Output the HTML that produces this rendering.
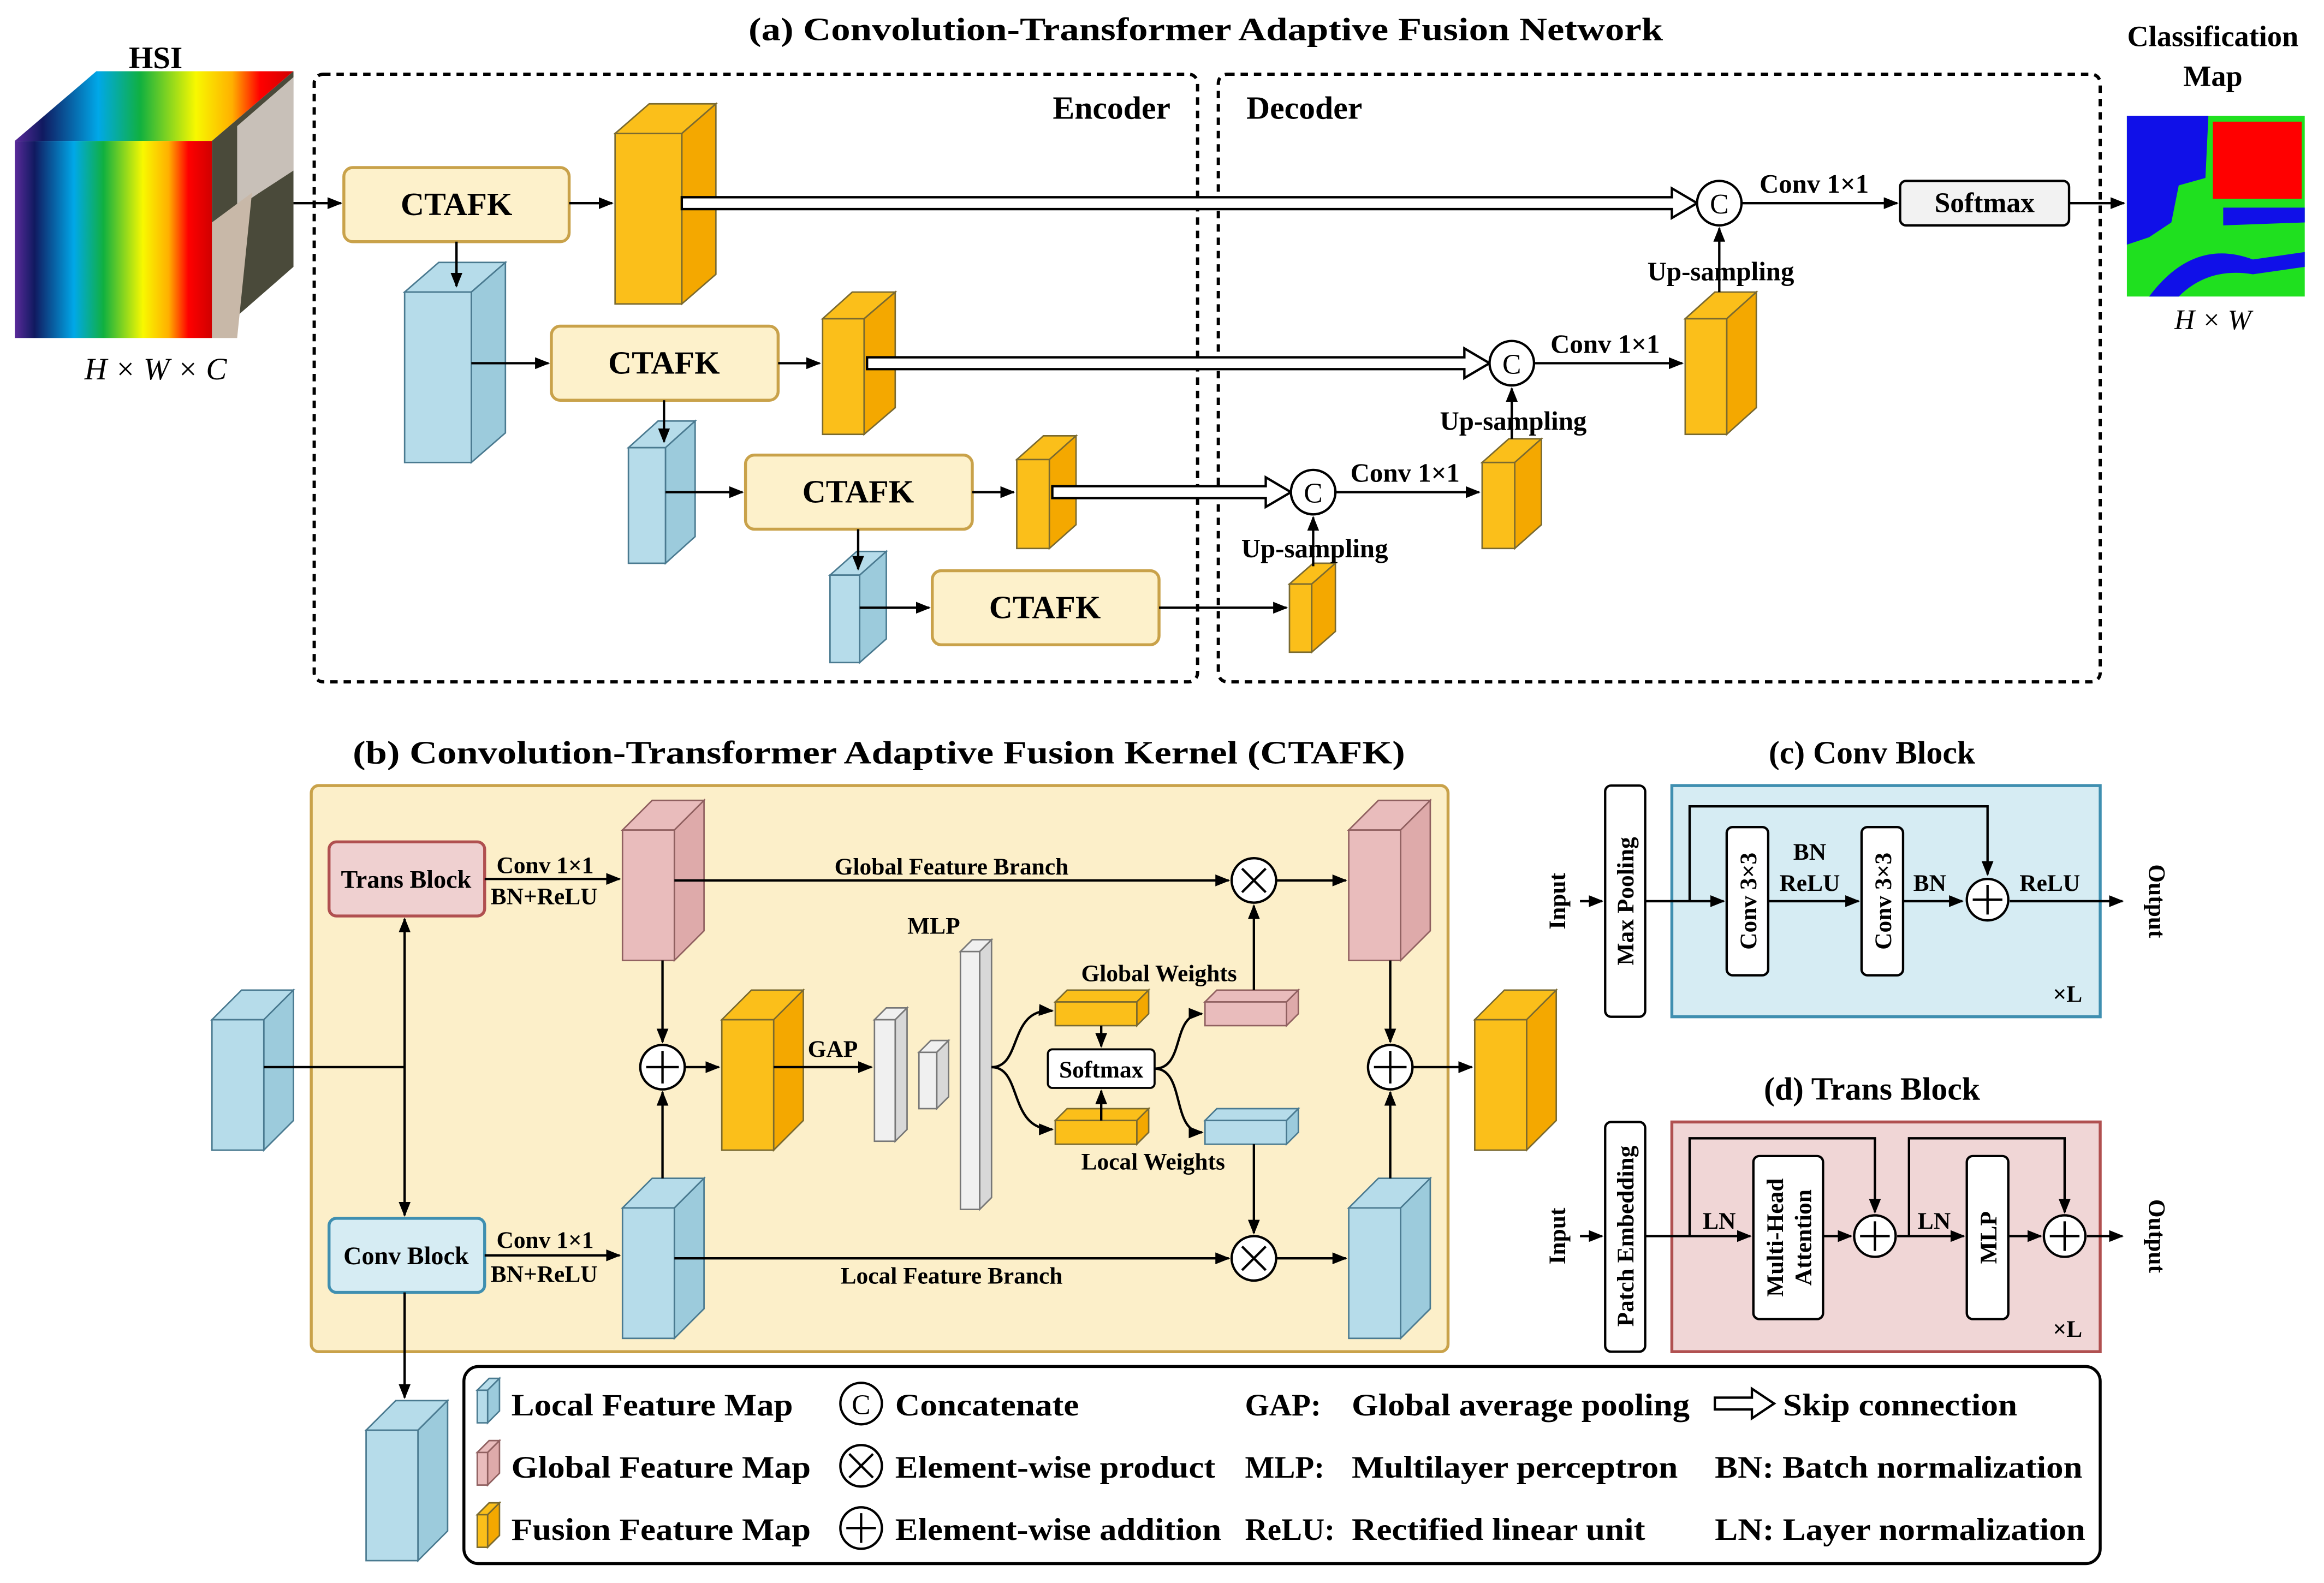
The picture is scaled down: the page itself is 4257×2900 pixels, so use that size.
<!DOCTYPE html>
<html><head><meta charset="utf-8"><style>
html,body{margin:0;padding:0;background:#fff;}
svg{display:block;}
text{font-family:"Liberation Serif",serif;font-weight:bold;fill:#000;}
</style></head><body>
<svg width="4257" height="2900" viewBox="0 0 1568 1068" xmlns="http://www.w3.org/2000/svg">
<defs>
<marker id="ar" markerWidth="10" markerHeight="8" refX="9" refY="4" orient="auto" markerUnits="userSpaceOnUse"><path d="M0,0 L10,4 L0,8 z" fill="#000"/></marker>
<linearGradient id="rb" x1="0" x2="1" y1="0" y2="0">
<stop offset="0" stop-color="#5a2a9a"/><stop offset="0.1" stop-color="#101a60"/><stop offset="0.3" stop-color="#00a8e8"/><stop offset="0.45" stop-color="#10b040"/><stop offset="0.65" stop-color="#f8f800"/><stop offset="0.78" stop-color="#ffb000"/><stop offset="0.88" stop-color="#ff0000"/><stop offset="1" stop-color="#d00000"/></linearGradient>
</defs>
<rect width="1568" height="1068" fill="#fff"/>

<!-- (a) -->
<text x="505" y="27" font-size="22" textLength="617" lengthAdjust="spacingAndGlyphs">(a) Convolution-Transformer Adaptive Fusion Network</text>
<rect x="212" y="50" width="596" height="410" rx="6" fill="none" stroke="#000" stroke-width="2.2" stroke-dasharray="5,4"/>
<rect x="822" y="50" width="595" height="410" rx="6" fill="none" stroke="#000" stroke-width="2.2" stroke-dasharray="5,4"/>
<text x="750" y="80" font-size="22" text-anchor="middle">Encoder</text>
<text x="880" y="80" font-size="22" text-anchor="middle">Decoder</text>

<!-- HSI cube -->
<text x="105" y="46" font-size="21" text-anchor="middle">HSI</text>
<polygon points="10,95 65,48 198,48 143,95" fill="url(#rb)"/>
<rect x="10" y="95" width="133" height="133" fill="url(#rb)"/>
<polygon points="143,95 198,48 198,180 143,228" fill="#4a4a3a"/>
<polygon points="160,85 198,52 198,115 175,130 160,140" fill="#c8c0b8"/>
<polygon points="143,150 170,130 160,228 143,228" fill="#c8b8a8"/>
<text x="105" y="256" font-size="21" font-style="italic" text-anchor="middle" style="font-weight:normal">H × W × C</text>
<line x1="198" y1="137" x2="230" y2="137" stroke="#000" stroke-width="1.6" marker-end="url(#ar)"/>

<g fill="#fdf1cb" stroke="#c9a24a" stroke-width="2">
<rect x="232" y="113" width="152" height="50" rx="6"/>
<rect x="372" y="220" width="153" height="50" rx="6"/>
<rect x="503" y="307" width="153" height="50" rx="6"/>
<rect x="629" y="385" width="153" height="50" rx="6"/>
</g>
<g font-size="22" text-anchor="middle">
<text x="308" y="145">CTAFK</text><text x="448" y="252">CTAFK</text><text x="579" y="339">CTAFK</text><text x="705" y="417">CTAFK</text>
</g>

<g stroke="#7a6a30" stroke-width="1" fill="#fbbf1a">
<polygon points="415,90 438,70 483,70 460,90"/><polygon points="460,90 483,70 483,185 460,205" fill="#f4a800"/><rect x="415" y="90" width="45" height="115"/>
<polygon points="555,215 575,197 604,197 583,215"/><polygon points="583,215 604,197 604,275 583,293" fill="#f4a800"/><rect x="555" y="215" width="28" height="78"/>
<polygon points="686,310 704,294 726,294 708,310"/><polygon points="708,310 726,294 726,354 708,370" fill="#f4a800"/><rect x="686" y="310" width="22" height="60"/>
<polygon points="870,394 886,380 901,380 885,394"/><polygon points="885,394 901,380 901,426 885,440" fill="#f4a800"/><rect x="870" y="394" width="15" height="46"/>
<polygon points="1000,312 1018,296 1040,296 1022,312"/><polygon points="1022,312 1040,296 1040,354 1022,370" fill="#f4a800"/><rect x="1000" y="312" width="22" height="58"/>
<polygon points="1137,215 1157,197 1185,197 1165,215"/><polygon points="1165,215 1185,197 1185,275 1165,293" fill="#f4a800"/><rect x="1137" y="215" width="28" height="78"/>
</g>
<g stroke="#4a7a90" stroke-width="1" fill="#b6dcea">
<polygon points="273,197 296,177 341,177 318,197"/><polygon points="318,197 341,177 341,292 318,312" fill="#9ccbdc"/><rect x="273" y="197" width="45" height="115"/>
<polygon points="424,302 444,284 469,284 449,302"/><polygon points="449,302 469,284 469,362 449,380" fill="#9ccbdc"/><rect x="424" y="302" width="25" height="78"/>
<polygon points="560,388 578,372 598,372 580,388"/><polygon points="580,388 598,372 598,431 580,447" fill="#9ccbdc"/><rect x="560" y="388" width="20" height="59"/>
</g>

<g stroke="#000" stroke-width="1.6" fill="none">
<line x1="384" y1="137" x2="413" y2="137" marker-end="url(#ar)"/>
<line x1="308" y1="163" x2="308" y2="193" marker-end="url(#ar)"/>
<line x1="318" y1="245" x2="370" y2="245" marker-end="url(#ar)"/>
<line x1="525" y1="245" x2="553" y2="245" marker-end="url(#ar)"/>
<line x1="448" y1="270" x2="448" y2="298" marker-end="url(#ar)"/>
<line x1="449" y1="332" x2="501" y2="332" marker-end="url(#ar)"/>
<line x1="656" y1="332" x2="684" y2="332" marker-end="url(#ar)"/>
<line x1="579" y1="357" x2="579" y2="384" marker-end="url(#ar)"/>
<line x1="580" y1="410" x2="627" y2="410" marker-end="url(#ar)"/>
<line x1="782" y1="410" x2="868" y2="410" marker-end="url(#ar)"/>
</g>
<g fill="#fff" stroke="#000" stroke-width="1.6">
<polygon points="460,133 1128,133 1128,127 1145,137 1128,147 1128,141 460,141"/>
<polygon points="585,241 988,241 988,235 1005,245 988,255 988,249 585,249"/>
<polygon points="710,328 854,328 854,322 871,332 854,342 854,336 710,336"/>
</g>
<g fill="#fff" stroke="#000" stroke-width="1.6">
<circle cx="1160" cy="137" r="15"/><circle cx="1020" cy="245" r="15"/><circle cx="886" cy="332" r="15"/>
</g>
<g font-size="19" text-anchor="middle">
<text x="1160" y="144" style="font-weight:normal">C</text><text x="1020" y="252" style="font-weight:normal">C</text><text x="886" y="339" style="font-weight:normal">C</text>
</g>
<g stroke="#000" stroke-width="1.6" fill="none">
<line x1="1175" y1="137" x2="1280" y2="137" marker-end="url(#ar)"/>
<line x1="1035" y1="245" x2="1135" y2="245" marker-end="url(#ar)"/>
<line x1="901" y1="332" x2="998" y2="332" marker-end="url(#ar)"/>
<line x1="1160" y1="197" x2="1160" y2="154" marker-end="url(#ar)"/>
<line x1="1020" y1="296" x2="1020" y2="262" marker-end="url(#ar)"/>
<line x1="886" y1="382" x2="886" y2="349" marker-end="url(#ar)"/>
<line x1="1396" y1="137" x2="1433" y2="137" marker-end="url(#ar)"/>
</g>
<g font-size="18" text-anchor="middle">
<text x="1224" y="130">Conv 1×1</text><text x="1083" y="238">Conv 1×1</text><text x="948" y="325">Conv 1×1</text>
<text x="1161" y="189">Up-sampling</text><text x="1021" y="290">Up-sampling</text><text x="887" y="376">Up-sampling</text>
</g>
<rect x="1282" y="122" width="114" height="30" rx="4" fill="#f2f2f2" stroke="#000" stroke-width="1.6"/>
<text x="1339" y="143" font-size="19" text-anchor="middle">Softmax</text>
<text x="1493" y="31" font-size="20" text-anchor="middle">Classification</text>
<text x="1493" y="58" font-size="20" text-anchor="middle">Map</text>
<rect x="1435" y="78" width="120" height="122" fill="#1fe01f"/>
<path d="M1435,78 L1490,78 L1488,120 L1470,125 L1465,150 L1450,160 L1435,165 z" fill="#1010e8"/>
<rect x="1493" y="82" width="60" height="52" fill="#ff0000"/>
<path d="M1450,200 Q1480,160 1520,175 L1555,170 L1555,180 L1520,185 Q1490,180 1470,200 z" fill="#1010e8"/>
<path d="M1500,140 L1555,140 L1555,150 L1500,152 z" fill="#1010e8"/>
<text x="1493" y="222" font-size="19" font-style="italic" text-anchor="middle" style="font-weight:normal">H × W</text>

<!-- (b) -->
<text x="238" y="515" font-size="22" textLength="710" lengthAdjust="spacingAndGlyphs">(b) Convolution-Transformer Adaptive Fusion Kernel (CTAFK)</text>
<rect x="210" y="530" width="767" height="382" rx="5" fill="#fcefc9" stroke="#c9a24a" stroke-width="2"/>
<rect x="222" y="568" width="105" height="50" rx="5" fill="#efd0d0" stroke="#b05050" stroke-width="2"/>
<text x="274" y="599" font-size="17" text-anchor="middle">Trans Block</text>
<rect x="222" y="822" width="105" height="50" rx="5" fill="#d6ecf3" stroke="#3f8fb0" stroke-width="2"/>
<text x="274" y="853" font-size="17" text-anchor="middle">Conv Block</text>

<g stroke-width="1">
<g stroke="#4a7a90" fill="#b6dcea"><polygon points="143,688 163,668 198,668 178,688"/><polygon points="178,688 198,668 198,756 178,776" fill="#9ccbdc"/><rect x="143" y="688" width="35" height="88"/></g>
<g stroke="#906060" fill="#e9bcbc">
<polygon points="420,560 440,540 475,540 455,560"/><polygon points="455,560 475,540 475,628 455,648" fill="#deaaaa"/><rect x="420" y="560" width="35" height="88"/>
<polygon points="910,560 930,540 965,540 945,560"/><polygon points="945,560 965,540 965,628 945,648" fill="#deaaaa"/><rect x="910" y="560" width="35" height="88"/>
<polygon points="813,676 821,668 876,668 868,676"/><polygon points="868,676 876,668 876,684 868,692" fill="#deaaaa"/><rect x="813" y="676" width="55" height="16"/>
</g>
<g stroke="#4a7a90" fill="#b6dcea">
<polygon points="420,815 440,795 475,795 455,815"/><polygon points="455,815 475,795 475,883 455,903" fill="#9ccbdc"/><rect x="420" y="815" width="35" height="88"/>
<polygon points="910,815 930,795 965,795 945,815"/><polygon points="945,815 965,795 965,883 945,903" fill="#9ccbdc"/><rect x="910" y="815" width="35" height="88"/>
<polygon points="813,756 821,748 876,748 868,756"/><polygon points="868,756 876,748 876,764 868,772" fill="#9ccbdc"/><rect x="813" y="756" width="55" height="16"/>
<polygon points="247,965 267,945 302,945 282,965"/><polygon points="282,965 302,945 302,1033 282,1053" fill="#9ccbdc"/><rect x="247" y="965" width="35" height="88"/>
</g>
<g stroke="#7a6a30" fill="#fbbf1a">
<polygon points="487,688 507,668 542,668 522,688"/><polygon points="522,688 542,668 542,756 522,776" fill="#f4a800"/><rect x="487" y="688" width="35" height="88"/>
<polygon points="995,688 1015,668 1050,668 1030,688"/><polygon points="1030,688 1050,668 1050,756 1030,776" fill="#f4a800"/><rect x="995" y="688" width="35" height="88"/>
<polygon points="712,676 720,668 775,668 767,676"/><polygon points="767,676 775,668 775,684 767,692" fill="#f4a800"/><rect x="712" y="676" width="55" height="16"/>
<polygon points="712,756 720,748 775,748 767,756"/><polygon points="767,756 775,748 775,764 767,772" fill="#f4a800"/><rect x="712" y="756" width="55" height="16"/>
</g>
<g stroke="#777" fill="#f0f0f0">
<polygon points="590,688 598,680 612,680 604,688"/><polygon points="604,688 612,680 612,762 604,770" fill="#d8d8d8"/><rect x="590" y="688" width="14" height="82"/>
<polygon points="620,710 628,702 640,702 632,710"/><polygon points="632,710 640,702 640,740 632,748" fill="#d8d8d8"/><rect x="620" y="710" width="12" height="38"/>
<polygon points="648,642 656,634 669,634 661,642"/><polygon points="661,642 669,634 669,808 661,816" fill="#d8d8d8"/><rect x="648" y="642" width="13" height="174"/>
</g>
</g>
<rect x="707" y="708" width="72" height="26" rx="3" fill="#fff" stroke="#000" stroke-width="1.4"/>
<text x="743" y="727" font-size="16" text-anchor="middle">Softmax</text>

<g stroke="#000" stroke-width="1.6" fill="none">
<line x1="178" y1="720" x2="273" y2="720"/>
<line x1="273" y1="720" x2="273" y2="620" marker-end="url(#ar)"/>
<line x1="273" y1="720" x2="273" y2="820" marker-end="url(#ar)"/>
<line x1="273" y1="872" x2="273" y2="943" marker-end="url(#ar)"/>
<line x1="327" y1="593" x2="418" y2="593" marker-end="url(#ar)"/>
<line x1="327" y1="847" x2="418" y2="847" marker-end="url(#ar)"/>
<line x1="455" y1="594" x2="829" y2="594" marker-end="url(#ar)"/>
<line x1="455" y1="849" x2="829" y2="849" marker-end="url(#ar)"/>
<line x1="861" y1="594" x2="908" y2="594" marker-end="url(#ar)"/>
<line x1="861" y1="849" x2="908" y2="849" marker-end="url(#ar)"/>
<line x1="447" y1="648" x2="447" y2="703" marker-end="url(#ar)"/>
<line x1="447" y1="795" x2="447" y2="737" marker-end="url(#ar)"/>
<line x1="462" y1="720" x2="485" y2="720" marker-end="url(#ar)"/>
<line x1="522" y1="720" x2="588" y2="720" marker-end="url(#ar)"/>
<line x1="938" y1="648" x2="938" y2="703" marker-end="url(#ar)"/>
<line x1="938" y1="795" x2="938" y2="737" marker-end="url(#ar)"/>
<line x1="953" y1="720" x2="993" y2="720" marker-end="url(#ar)"/>
<path d="M669,720 C690,720 680,680 710,682" marker-end="url(#ar)"/>
<path d="M669,720 C690,720 680,762 710,762" marker-end="url(#ar)"/>
<line x1="743" y1="692" x2="743" y2="706" marker-end="url(#ar)"/>
<line x1="743" y1="756" x2="743" y2="736" marker-end="url(#ar)"/>
<path d="M779,721 C800,721 790,684 811,684" marker-end="url(#ar)"/>
<path d="M779,721 C800,721 790,764 811,764" marker-end="url(#ar)"/>
<line x1="846" y1="668" x2="846" y2="611" marker-end="url(#ar)"/>
<line x1="846" y1="772" x2="846" y2="832" marker-end="url(#ar)"/>
</g>
<g fill="#fff" stroke="#000" stroke-width="1.6">
<circle cx="447" cy="720" r="15"/><circle cx="938" cy="720" r="15"/><circle cx="846" cy="594" r="15"/><circle cx="846" cy="849" r="15"/>
</g>
<g stroke="#000" stroke-width="1.6">
<line x1="436" y1="720" x2="458" y2="720"/><line x1="447" y1="709" x2="447" y2="731"/>
<line x1="927" y1="720" x2="949" y2="720"/><line x1="938" y1="709" x2="938" y2="731"/>
<line x1="838" y1="586" x2="854" y2="602"/><line x1="854" y1="586" x2="838" y2="602"/>
<line x1="838" y1="841" x2="854" y2="857"/><line x1="854" y1="841" x2="838" y2="857"/>
</g>
<g font-size="16">
<text x="335" y="589">Conv 1×1</text><text x="331" y="610">BN+ReLU</text>
<text x="335" y="842">Conv 1×1</text><text x="331" y="865">BN+ReLU</text>
<text x="642" y="590" text-anchor="middle">Global Feature Branch</text>
<text x="642" y="866" text-anchor="middle">Local Feature Branch</text>
<text x="545" y="713">GAP</text>
<text x="630" y="630" text-anchor="middle">MLP</text>
<text x="782" y="662" text-anchor="middle">Global Weights</text>
<text x="778" y="789" text-anchor="middle">Local Weights</text>
</g>

<!-- (c) -->
<text x="1263" y="515" font-size="22" text-anchor="middle">(c) Conv Block</text>
<rect x="1128" y="530" width="289" height="156" fill="#d6ecf3" stroke="#3f8fb0" stroke-width="2"/>
<rect x="1083" y="530" width="27" height="156" rx="4" fill="#fff" stroke="#000" stroke-width="1.6"/>
<text transform="translate(1102,608) rotate(-90)" font-size="16" text-anchor="middle">Max Pooling</text>
<text transform="translate(1056,608) rotate(-90)" font-size="16" text-anchor="middle">Input</text>
<text transform="translate(1450,608) rotate(90)" font-size="16" text-anchor="middle">Output</text>
<rect x="1165" y="558" width="28" height="100" rx="4" fill="#fff" stroke="#000" stroke-width="1.6"/>
<rect x="1256" y="558" width="28" height="100" rx="4" fill="#fff" stroke="#000" stroke-width="1.6"/>
<text transform="translate(1185,608) rotate(-90)" font-size="16" text-anchor="middle">Conv 3×3</text>
<text transform="translate(1276,608) rotate(-90)" font-size="16" text-anchor="middle">Conv 3×3</text>
<g stroke="#000" stroke-width="1.6" fill="none">
<line x1="1066" y1="608" x2="1081" y2="608" marker-end="url(#ar)"/>
<line x1="1110" y1="608" x2="1163" y2="608" marker-end="url(#ar)"/>
<polyline points="1140,608 1140,544 1341,544 1341,590" marker-end="url(#ar)"/>
<line x1="1193" y1="608" x2="1254" y2="608" marker-end="url(#ar)"/>
<line x1="1284" y1="608" x2="1324" y2="608" marker-end="url(#ar)"/>
<line x1="1356" y1="608" x2="1432" y2="608" marker-end="url(#ar)"/>
<circle cx="1341" cy="607" r="14" fill="#fff"/>
<line x1="1331" y1="607" x2="1351" y2="607"/><line x1="1341" y1="597" x2="1341" y2="617"/>
</g>
<g font-size="16" text-anchor="middle">
<text x="1221" y="580">BN</text><text x="1221" y="601">ReLU</text><text x="1302" y="601">BN</text><text x="1383" y="601">ReLU</text><text x="1395" y="676">×L</text>
</g>

<!-- (d) -->
<text x="1263" y="742" font-size="22" text-anchor="middle">(d) Trans Block</text>
<rect x="1128" y="757" width="289" height="155" fill="#f0d6d6" stroke="#b05050" stroke-width="2"/>
<rect x="1083" y="757" width="27" height="155" rx="4" fill="#fff" stroke="#000" stroke-width="1.6"/>
<text transform="translate(1102,834) rotate(-90)" font-size="16" text-anchor="middle">Patch Embedding</text>
<text transform="translate(1056,834) rotate(-90)" font-size="16" text-anchor="middle">Input</text>
<text transform="translate(1450,834) rotate(90)" font-size="16" text-anchor="middle">Output</text>
<rect x="1183" y="780" width="47" height="110" rx="4" fill="#fff" stroke="#000" stroke-width="1.6"/>
<text transform="translate(1203,835) rotate(-90)" font-size="16" text-anchor="middle">Multi-Head</text>
<text transform="translate(1222,835) rotate(-90)" font-size="16" text-anchor="middle">Attention</text>
<rect x="1327" y="780" width="28" height="110" rx="4" fill="#fff" stroke="#000" stroke-width="1.6"/>
<text transform="translate(1347,835) rotate(-90)" font-size="16" text-anchor="middle">MLP</text>
<g stroke="#000" stroke-width="1.6" fill="none">
<line x1="1066" y1="834" x2="1081" y2="834" marker-end="url(#ar)"/>
<line x1="1110" y1="834" x2="1181" y2="834" marker-end="url(#ar)"/>
<polyline points="1140,834 1140,768 1265,768 1265,818" marker-end="url(#ar)"/>
<line x1="1230" y1="834" x2="1249" y2="834" marker-end="url(#ar)"/>
<line x1="1280" y1="834" x2="1325" y2="834" marker-end="url(#ar)"/>
<polyline points="1288,834 1288,768 1393,768 1393,818" marker-end="url(#ar)"/>
<line x1="1355" y1="834" x2="1377" y2="834" marker-end="url(#ar)"/>
<line x1="1408" y1="834" x2="1432" y2="834" marker-end="url(#ar)"/>
<circle cx="1265" cy="834" r="14" fill="#fff"/><line x1="1255" y1="834" x2="1275" y2="834"/><line x1="1265" y1="824" x2="1265" y2="844"/>
<circle cx="1393" cy="834" r="14" fill="#fff"/><line x1="1383" y1="834" x2="1403" y2="834"/><line x1="1393" y1="824" x2="1393" y2="844"/>
</g>
<g font-size="16" text-anchor="middle"><text x="1160" y="829">LN</text><text x="1305" y="829">LN</text><text x="1395" y="902">×L</text></g>

<!-- legend -->
<rect x="313" y="922" width="1104" height="133" rx="10" fill="#fff" stroke="#000" stroke-width="2"/>
<g stroke-width="1">
<g stroke="#4a7a90" fill="#b6dcea"><polygon points="322,938 330,930 337,930 329,938"/><polygon points="329,938 337,930 337,952 329,960" fill="#9ccbdc"/><rect x="322" y="938" width="7" height="22"/></g>
<g stroke="#906060" fill="#e9bcbc"><polygon points="322,980 330,972 337,972 329,980"/><polygon points="329,980 337,972 337,994 329,1002" fill="#deaaaa"/><rect x="322" y="980" width="7" height="22"/></g>
<g stroke="#7a6a30" fill="#fbbf1a"><polygon points="322,1022 330,1014 337,1014 329,1022"/><polygon points="329,1022 337,1014 337,1036 329,1044" fill="#f4a800"/><rect x="322" y="1022" width="7" height="22"/></g>
</g>
<g fill="#fff" stroke="#000" stroke-width="1.6">
<circle cx="581" cy="947" r="14"/><circle cx="581" cy="989" r="14"/><circle cx="581" cy="1031" r="14"/>
</g>
<g stroke="#000" stroke-width="1.6">
<line x1="573" y1="981" x2="589" y2="997"/><line x1="589" y1="981" x2="573" y2="997"/>
<line x1="571" y1="1031" x2="591" y2="1031"/><line x1="581" y1="1021" x2="581" y2="1041"/>
</g>
<text x="581" y="954" font-size="19" text-anchor="middle" style="font-weight:normal">C</text>
<polygon points="1157,943 1182,943 1182,937 1197,947 1182,957 1182,951 1157,951" fill="#fff" stroke="#000" stroke-width="1.6"/>
<g font-size="21">
<text x="345" y="955" textLength="190" lengthAdjust="spacingAndGlyphs">Local Feature Map</text>
<text x="345" y="997" textLength="202" lengthAdjust="spacingAndGlyphs">Global Feature Map</text>
<text x="345" y="1039" textLength="202" lengthAdjust="spacingAndGlyphs">Fusion Feature Map</text>
<text x="604" y="955" textLength="124" lengthAdjust="spacingAndGlyphs">Concatenate</text>
<text x="604" y="997" textLength="216" lengthAdjust="spacingAndGlyphs">Element-wise product</text>
<text x="604" y="1039" textLength="220" lengthAdjust="spacingAndGlyphs">Element-wise addition</text>
<text x="840" y="955">GAP:</text><text x="912" y="955" textLength="228" lengthAdjust="spacingAndGlyphs">Global average pooling</text>
<text x="840" y="997">MLP:</text><text x="912" y="997" textLength="220" lengthAdjust="spacingAndGlyphs">Multilayer perceptron</text>
<text x="840" y="1039">ReLU:</text><text x="912" y="1039" textLength="198" lengthAdjust="spacingAndGlyphs">Rectified linear unit</text>
<text x="1203" y="955" textLength="158" lengthAdjust="spacingAndGlyphs">Skip connection</text>
<text x="1157" y="997" textLength="248" lengthAdjust="spacingAndGlyphs">BN: Batch normalization</text>
<text x="1157" y="1039" textLength="250" lengthAdjust="spacingAndGlyphs">LN: Layer normalization</text>
</g>
</svg>
</body></html>
